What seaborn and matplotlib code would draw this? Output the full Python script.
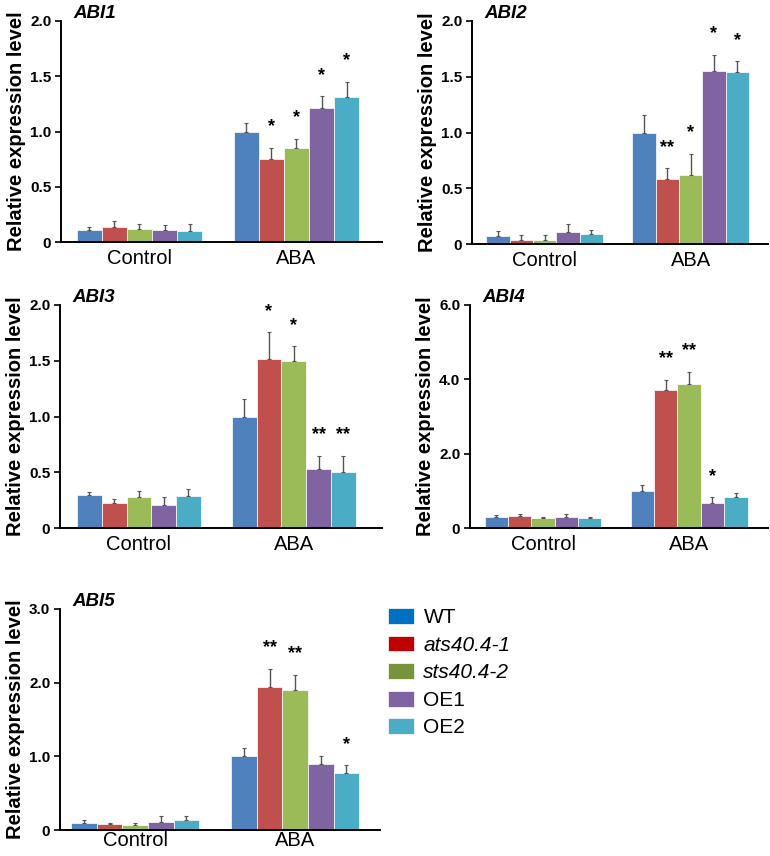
import numpy as np
import pandas as pd
import matplotlib
matplotlib.use("Agg")
import matplotlib.pyplot as plt
from matplotlib.patches import Patch
from matplotlib.ticker import FuncFormatter
import seaborn as sns

# genotypes / treatments
genotypes = ["WT", "ats40.4-1", "sts40.4-2", "OE1", "OE2"]
conditions = ["Control", "ABA"]
bar_colors = ["#4F81BD", "#C0504D", "#9BBB59", "#8064A2", "#4BACC6"]
legend_colors = ["#0070C0", "#C00000", "#77933C", "#8064A2", "#4BACC6"]

# ABI1
abi1_ctrl = [0.11, 0.14, 0.12, 0.11, 0.10]
abi1_ctrl_err = [0.03, 0.05, 0.045, 0.045, 0.06]
abi1_aba = [1.00, 0.75, 0.855, 1.21, 1.31]
abi1_aba_err = [0.075, 0.10, 0.08, 0.11, 0.14]
abi1_stars = ["", "*", "*", "*", "*"]

# ABI2
abi2_ctrl = [0.07, 0.04, 0.04, 0.107, 0.087]
abi2_ctrl_err = [0.045, 0.04, 0.04, 0.07, 0.04]
abi2_aba = [1.00, 0.58, 0.62, 1.555, 1.54]
abi2_aba_err = [0.155, 0.10, 0.19, 0.14, 0.10]
abi2_stars = ["", "**", "*", "*", "*"]

# ABI3
abi3_ctrl = [0.30, 0.227, 0.28, 0.206, 0.287]
abi3_ctrl_err = [0.025, 0.036, 0.056, 0.075, 0.063]
abi3_aba = [1.00, 1.52, 1.495, 0.53, 0.50]
abi3_aba_err = [0.16, 0.235, 0.135, 0.12, 0.15]
abi3_stars = ["", "*", "*", "**", "**"]

# ABI4
abi4_ctrl = [0.30, 0.32, 0.26, 0.30, 0.26]
abi4_ctrl_err = [0.04, 0.05, 0.045, 0.07, 0.045]
abi4_aba = [1.00, 3.71, 3.87, 0.67, 0.83]
abi4_aba_err = [0.16, 0.28, 0.33, 0.16, 0.11]
abi4_stars = ["", "**", "**", "*", ""]

# ABI5
abi5_ctrl = [0.10, 0.08, 0.07, 0.11, 0.134]
abi5_ctrl_err = [0.03, 0.015, 0.025, 0.075, 0.055]
abi5_aba = [1.00, 1.935, 1.90, 0.89, 0.78]
abi5_aba_err = [0.11, 0.25, 0.21, 0.12, 0.10]
abi5_stars = ["", "**", "**", "", "*"]

panels = [
    ("ABI1", abi1_ctrl, abi1_ctrl_err, abi1_aba, abi1_aba_err, abi1_stars, 2.0, [0, 0.5, 1.0, 1.5, 2.0]),
    ("ABI2", abi2_ctrl, abi2_ctrl_err, abi2_aba, abi2_aba_err, abi2_stars, 2.0, [0, 0.5, 1.0, 1.5, 2.0]),
    ("ABI3", abi3_ctrl, abi3_ctrl_err, abi3_aba, abi3_aba_err, abi3_stars, 2.0, [0, 0.5, 1.0, 1.5, 2.0]),
    ("ABI4", abi4_ctrl, abi4_ctrl_err, abi4_aba, abi4_aba_err, abi4_stars, 6.0, [0, 2.0, 4.0, 6.0]),
    ("ABI5", abi5_ctrl, abi5_ctrl_err, abi5_aba, abi5_aba_err, abi5_stars, 3.0, [0, 1.0, 2.0, 3.0]),
]

# axes rectangles in pixels: left, top, right, bottom  (figure 770x856)
W, H = 770, 856
boxes = [(61, 21, 382, 242), (472, 21, 768, 244), (60, 305, 382, 528),
         (470, 305, 768, 528), (60, 609, 380, 830)]
xlims = [(-0.5, 1.545), (-0.497, 1.53), (-0.51, 1.57), (-0.5, 1.54), (-0.47, 1.53)]
xpads = [5, 5, 5, 5, 1]

sns.set_style("ticks")
plt.rcParams["font.family"] = ["Liberation Sans", "DejaVu Sans"]
plt.rcParams["text.color"] = "black"
plt.rcParams["xtick.color"] = "black"
plt.rcParams["ytick.color"] = "black"
plt.rcParams["axes.labelcolor"] = "black"

fig = plt.figure(figsize=(W / 100, H / 100), dpi=100)

fmt = FuncFormatter(lambda v, p: "0" if abs(v) < 1e-9 else f"{v:.1f}")

for (name, ctrl, ctrl_err, aba, aba_err, stars, ymax, yticks), box, xl, xpad in zip(panels, boxes, xlims, xpads):
    l, t, r, b = box
    ax = fig.add_axes([l / W, 1 - b / H, (r - l) / W, (b - t) / H])
    df = pd.DataFrame({
        "condition": np.repeat(conditions, len(genotypes)),
        "genotype": genotypes * 2,
        "value": list(ctrl) + list(aba),
    })
    sns.barplot(data=df, x="condition", y="value", hue="genotype", hue_order=genotypes,
                palette=bar_colors, saturation=1, errorbar=None, width=0.8, legend=False,
                edgecolor="white", linewidth=0.5, ax=ax)

    # error bars and stars placed on the drawn bars (sorted left to right)
    bars = sorted(ax.patches, key=lambda p: p.get_x())
    errs = list(ctrl_err) + list(aba_err)
    marks = [""] * len(genotypes) + list(stars)
    for bar, e, s in zip(bars, errs, marks):
        xc = bar.get_x() + bar.get_width() / 2
        h = bar.get_height()
        ax.errorbar(xc, h, yerr=[[0], [e]], fmt="none", ecolor="#555555",
                    elinewidth=1.0, capsize=1.5, capthick=0.8)
        if s:
            ax.annotate(s, xy=(xc, h + e), xytext=(0, 9), textcoords="offset points",
                        ha="center", va="bottom", fontsize=13, fontweight="bold")

    ax.set_xlim(*xl)
    ax.set_ylim(0, ymax)
    ax.set_yticks(yticks)
    ax.yaxis.set_major_formatter(fmt)
    ax.set_xlabel("")
    ax.set_ylabel("Relative expression level", fontsize=14.5, fontweight="bold", labelpad=3)
    for sp in ["top", "right"]:
        ax.spines[sp].set_visible(False)
    for sp in ["left", "bottom"]:
        ax.spines[sp].set_linewidth(1.4)
        ax.spines[sp].set_color("black")
    ax.tick_params(axis="y", length=4, width=1.2, pad=3, labelsize=11)
    ax.tick_params(axis="x", length=0, pad=xpad, labelsize=14.5)
    for lab in ax.get_yticklabels():
        lab.set_fontweight("bold")
    ax.annotate(name, xy=(0, 1), xycoords="axes fraction", xytext=(9, 2),
                textcoords="offset points", ha="left", va="baseline",
                fontsize=13.5, fontweight="bold", fontstyle="italic")

handles = [Patch(facecolor=c, edgecolor="white", linewidth=0.5) for c in legend_colors]
leg = fig.legend(handles, genotypes, loc="upper left", bbox_to_anchor=(388 / W, 1 - 608 / H),
                 frameon=False, fontsize=15, handlelength=1.25, handleheight=0.8,
                 handletextpad=0.45, labelspacing=0.4, borderpad=0, borderaxespad=0)
for i in (1, 2):
    leg.get_texts()[i].set_fontstyle("italic")

fig.savefig("out.png", dpi=100)
